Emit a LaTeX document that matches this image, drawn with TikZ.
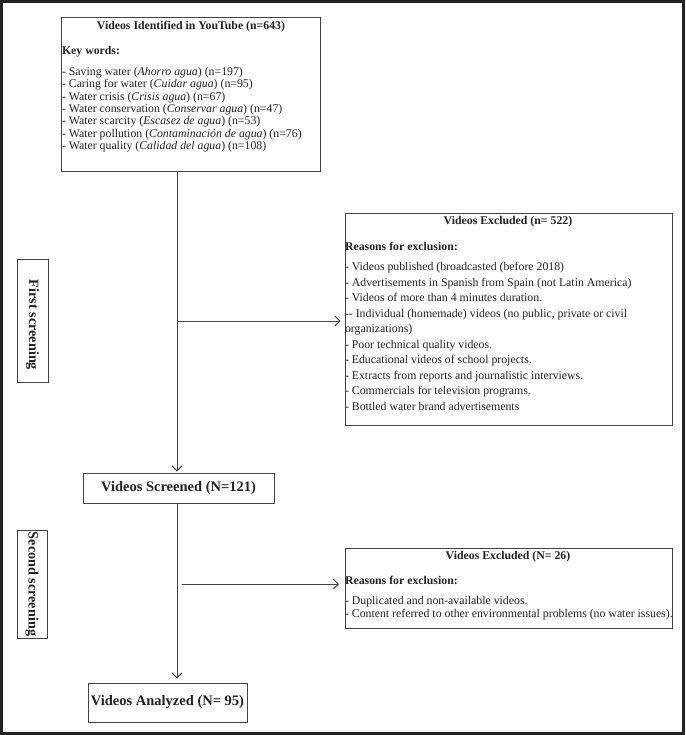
\documentclass[tikz,border=0pt]{standalone}
\usepackage{fontspec}
\setmainfont{Liberation Serif}
\usetikzlibrary{arrows.meta}
\definecolor{ink}{HTML}{222222}
\definecolor{rule}{HTML}{444444}
\begin{document}
\begin{tikzpicture}[x=1pt,y=-1pt,
  box/.style={draw=rule, line width=0.9pt, inner sep=0pt, outer sep=0pt, anchor=north west},
  txt/.style={inner sep=0pt, outer sep=0pt, align=left, anchor=north west, text=ink,
    font=\fontsize{11.8}{12.3}\selectfont},
  ttl/.style={inner sep=0pt, outer sep=0pt, text=ink, font=\fontsize{11.8}{12.3}\selectfont\bfseries},
  big/.style={inner sep=0pt, outer sep=0pt, text=ink, font=\fontsize{14.5}{16}\selectfont\bfseries},
  side/.style={inner sep=0pt, outer sep=0pt, text=ink, rotate=-90, font=\fontsize{14.2}{16}\selectfont\bfseries},
  conn/.style={draw=rule, line width=0.9pt},
  arr/.style={conn, -{Straight Barb[length=5pt,width=10pt,line width=0.9pt]}}
]
\useasboundingbox (0,0) rectangle (685,735);
\draw[line width=2.6pt, draw=ink] (1.3,1.3) rectangle (683.7,733.7);

% boxes
\node[box, minimum width=259pt, minimum height=154pt] (top) at (61,17) {};
\node[box, minimum width=327pt, minimum height=212pt] (ex1) at (345,213) {};
\node[box, minimum width=327pt, minimum height=80pt] (ex2) at (345,548) {};
\node[box, minimum width=191pt, minimum height=30pt] (scr) at (83,473) {};
\node[box, minimum width=159pt, minimum height=39pt] (ana) at (88,683) {};
\node[box, minimum width=31pt, minimum height=123pt] (fs) at (17,259) {};
\node[box, minimum width=30pt, minimum height=108pt] (ss) at (17,530) {};

% top box text
\node[ttl] (topT) at (191,26.5) {Videos Identified in YouTube (n=643)};
\node[txt, font=\fontsize{11.8}{12.3}\selectfont\bfseries] (topK) at (62,46.5) {Key words:};
\node[txt] (topL) at (62,67.5) {%
- Saving water (\textit{Ahorro agua}) (n=197)\\
- Caring for water (\textit{Cuidar agua}) (n=95)\\
- Water crisis (\textit{Crisis agua}) (n=67)\\
- Water conservation (\textit{Conservar agua}) (n=47)\\
- Water scarcity (\textit{Escasez de agua}) (n=53)\\
- Water pollution (\textit{Contaminación de agua}) (n=76)\\
- Water quality (\textit{Calidad del agua}) (n=108)};

% excluded 1 text
\node[ttl] (ex1T) at (508,221.5) {Videos Excluded (n= 522)};
\node[txt, font=\fontsize{11.8}{12.3}\selectfont\bfseries] (ex1R) at (345,242.5) {Reasons for exclusion:};
\node[txt, font=\fontsize{11.8}{15.5}\selectfont] (ex1L) at (345,262.5) {%
- Videos published (broadcasted (before 2018)\\
- Advertisements in Spanish from Spain (not Latin America)\\
- Videos of more than 4 minutes duration.\\
-{}- Individual (homemade) videos (no public, private or civil\\
organizations)\\
- Poor technical quality videos.\\
- Educational videos of school projects.\\
- Extracts from reports and journalistic interviews.\\
- Commercials for television programs.\\
- Bottled water brand advertisements};

% excluded 2 text
\node[ttl] (ex2T) at (508,556.5) {Videos Excluded (N= 26)};
\node[txt, font=\fontsize{11.8}{12.3}\selectfont\bfseries] (ex2R) at (345,576.5) {Reasons for exclusion:};
\node[txt, font=\fontsize{11.8}{13}\selectfont] (ex2L) at (345,596.5) {%
- Duplicated and non-available videos.\\
- Content referred to other environmental problems (no water issues).};

% main boxes text
\node[big] (scrT) at (scr.center) {Videos Screened (N=121)};
\node[big] (anaT) at (ana.center) {Videos Analyzed (N= 95)};
\node[side] (fsT) at ([yshift=-4.5pt]fs.center) {First screening};
\node[side] (ssT) at (ss.center) {Second screening};

% connectors
\coordinate (sp1) at (177,321);
\coordinate (sp2) at (177,584);
\coordinate (br2) at (182,584);
\draw[arr, shorten >=1.5pt] (top.south -| sp1) -- (scr.north -| sp1);
\draw[arr, shorten >=4.5pt] (sp1) -- (ex1.west |- sp1);
\draw[arr, shorten >=4.5pt] (scr.south -| sp2) -- (ana.north -| sp2);
\draw[arr, shorten >=6pt] (br2) -- (ex2.west |- br2);
\end{tikzpicture}
\end{document}
